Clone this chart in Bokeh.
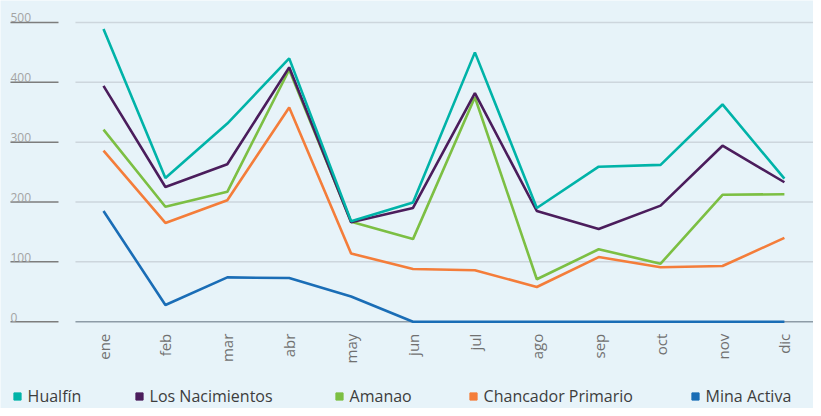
from bokeh.plotting import figure
from bokeh.models import Range1d, Legend, LegendItem
from bokeh.core.properties import value
from bokeh.embed import file_html
from bokeh.resources import INLINE
import math

# ---- data ----
months = ["ene", "feb", "mar", "abr", "may", "jun", "jul", "ago", "sep", "oct", "nov", "dic"]
hualfin = [489, 240, 331, 440, 168, 199, 450, 190, 259, 262, 363, 239]
nacimientos = [394, 225, 263, 425, 166, 190, 382, 185, 155, 194, 294, 233]
amanao = [321, 192, 217, 421, 167, 138, 375, 71, 121, 97, 212, 213]
chancador = [286, 165, 203, 358, 114, 88, 86, 58, 108, 91, 93, 140]
mina_activa = [185, 28, 74, 73, 42, 0, 0, 0, 0, 0, 0, 0]
y_ticks = [0, 100, 200, 300, 400, 500]

series_names = ["Hualfín", "Los Nacimientos", "Amanao", "Chancador Primario", "Mina Activa"]
series_values = [hualfin, nacimientos, amanao, chancador, mina_activa]
series_colors = ["#00b3a8", "#4b1d5c", "#7cbf43", "#f47d3a", "#1a6db6"]

BG = "#e7f3f9"
FONT = "Open Sans"

W, H = 813, 408
px_per_x = 61.9
x0 = -103 / px_per_x
x1 = x0 + W / px_per_x
y_top = 500 + 22 / 0.6
y_bot = (321 - H) / 0.6

p = figure(width=W, height=H, output_backend="svg", toolbar_location=None,
           x_range=Range1d(x0, x1), y_range=Range1d(y_bot, y_top),
           min_border=0, min_border_left=0, min_border_right=0,
           min_border_top=0, min_border_bottom=0)
p.axis.visible = False
p.grid.visible = False
p.outline_line_color = None
p.background_fill_color = BG
p.border_fill_color = BG

xs = list(range(len(months)))

# gridlines (0 line darker)
grid_start = -0.453
p.segment(x0=[grid_start] * len(y_ticks), y0=y_ticks, x1=[x1] * len(y_ticks), y1=y_ticks,
          line_color=["#8e9ca7" if t == 0 else "#cdd6dd" for t in y_ticks], line_width=1.5)

# y tick labels with underline
lab_x0, lab_x1 = -1.503, -0.727
p.segment(x0=[lab_x0] * len(y_ticks), y0=y_ticks, x1=[lab_x1] * len(y_ticks), y1=y_ticks,
          line_color="#7d7d7d", line_width=1.5)
p.text(x=[lab_x0] * len(y_ticks), y=y_ticks, text=[str(t) for t in y_ticks],
       text_font=value(FONT), text_font_size="12px", text_color="#a3a3a3",
       text_align="left", text_baseline="bottom", y_offset=0)

# month labels (rotated)
p.text(x=xs, y=[0] * len(xs), text=months, angle=math.pi / 2,
       text_font=value(FONT), text_font_size="15px", text_color="#707070",
       text_align="right", text_baseline="middle", y_offset=12)

# lines (drawn in reverse order so first series is on top)
for name, vals, col in reversed(list(zip(series_names, series_values, series_colors))):
    p.line(xs, vals, line_color=col, line_width=2.6)

# legends: square markers, one per item (proxy renderers with zero-size markers)
legend_x = [7.6, 129.6, 329.6, 463.6, 685.6]
for name, vals, col, lx in zip(series_names, series_values, series_colors, legend_x):
    r = p.scatter(x=[xs[0]], y=[vals[0]], marker="square", size=0,
                  fill_color=col, line_color=col)
    lg = Legend(items=[LegendItem(label=name, renderers=[r])],
                location=(lx, 1), orientation="horizontal",
                background_fill_alpha=0, border_line_color=None,
                padding=0, margin=0, spacing=0,
                glyph_width=18, glyph_height=18, label_standoff=2, label_height=20,
                label_text_font=FONT, label_text_font_size="16px",
                label_text_color="#3d3d3d", label_text_baseline="middle")
    p.add_layout(lg)

open("out.html", "w").write(file_html(p, INLINE))
